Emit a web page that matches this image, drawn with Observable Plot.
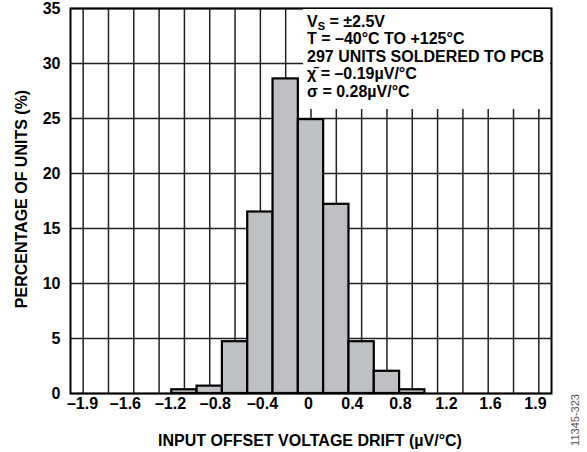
<!DOCTYPE html>
<html><head><meta charset="utf-8">
<script src="https://cdn.jsdelivr.net/npm/d3@7"></script>
<script src="https://cdn.jsdelivr.net/npm/@observablehq/plot@0.6"></script>
<style>
body{margin:0;background:#fff;}
#chart{position:relative;width:587px;height:452px;font-family:"Liberation Sans",Arial,sans-serif;}
</style></head><body><div id="chart"></div>
<script>
// bins (µV/°C) and percentage of units
const binStart = [-1.1, -0.9, -0.7, -0.5, -0.3, -0.1, 0.1, 0.3, 0.5, 0.7];
const binEnd   = [-0.9, -0.7, -0.5, -0.3, -0.1, 0.1, 0.3, 0.5, 0.7, 0.9];
const percent  = [0.34, 0.67, 4.71, 16.5, 28.6, 24.9, 17.2, 4.71, 2.02, 0.34];
const yTicks = [0, 5, 10, 15, 20, 25, 30, 35];
const gridX = [-1.8,-1.6,-1.4,-1.2,-1.0,-0.8,-0.6,-0.4,-0.2,0,0.2,0.4,0.6,0.8,1.0,1.2,1.4,1.6,1.8];
const tickLabels = ["–1.9","–1.6","–1.2","–0.8","–0.4","0","0.4","0.8","1.2","1.6","1.9"];
const tickAt = [-1.805,-1.466,-1.11,-0.755,-0.383,-0.02,0.327,0.707,1.07,1.418,1.773];

const bars = binStart.map((s, i) => ({x1: s, x2: binEnd[i], y: percent[i]}));
const font = "Liberation Sans, Arial, sans-serif";

const plot = Plot.plot({
  width: 587, height: 452,
  marginLeft: 70, marginRight: 36, marginTop: 8, marginBottom: 59,
  style: {fontFamily: font, fontSize: "16px", fontWeight: "bold", background: "#fff", color: "#000"},
  x: {domain: [-1.9, 1.9], axis: null},
  y: {domain: [0, 35], axis: null},
  marks: [
    Plot.gridX(gridX, {stroke: "#222", strokeOpacity: 1, strokeWidth: 1.5}),
    Plot.gridY(yTicks, {stroke: "#222", strokeOpacity: 1, strokeWidth: 1.5}),
    Plot.rectY(bars, {x1: "x1", x2: "x2", y: "y", fill: "#bfc0c4", stroke: "#000", strokeWidth: 2.2}),
    Plot.text(yTicks, {x: -1.9, y: d => d, text: d => String(d), textAnchor: "end", dx: -10, fontWeight: "bold", fontSize: 16}),
    Plot.text(tickAt, {x: d => d, text: (d, i) => tickLabels[i], frameAnchor: "bottom", dy: 15, fontWeight: "bold", fontSize: 16}),
    Plot.frame({stroke: "#000", strokeWidth: 2})
  ]
});
document.getElementById("chart").appendChild(plot);

const svg = d3.select(plot);
// annotation box
svg.append("rect").attr("x", 303).attr("y", 9).attr("width", 247).attr("height", 100).attr("fill", "#fff");
const notes = [
  ["V", "S", " = ±2.5V"],
  ["T = –40°C TO +125°C"],
  ["297 UNITS SOLDERED TO PCB"],
  ["χ̄ = –0.19µV/°C"],
  ["σ = 0.28µV/°C"]
];
notes.forEach((n, i) => {
  const t = svg.append("text").attr("x", 307).attr("y", 26.5 + i * 17.5).attr("text-anchor", "start")
    .attr("font-family", font).attr("font-size", 16).attr("font-weight", "bold").attr("fill", "#000");
  if (n.length === 3) {
    t.append("tspan").text(n[0]);
    t.append("tspan").attr("font-size", 11).attr("dy", 3).text(n[1]);
    t.append("tspan").attr("dy", -3).text(n[2]);
  } else t.text(n[0]);
});
// axis titles
svg.append("text").attr("x", 310).attr("y", 446).attr("text-anchor", "middle")
  .attr("font-family", font).attr("font-size", 16).attr("font-weight", "bold")
  .text("INPUT OFFSET VOLTAGE DRIFT (µV/°C)");
svg.append("text").attr("transform", "translate(27,199) rotate(-90)").attr("text-anchor", "middle")
  .attr("font-family", font).attr("font-size", 16).attr("font-weight", "bold")
  .text("PERCENTAGE OF UNITS (%)");
svg.append("text").attr("transform", "translate(579,420) rotate(-90)").attr("text-anchor", "middle")
  .attr("font-family", "Liberation Sans Narrow, Liberation Sans, Arial, sans-serif").attr("font-size", 11).attr("font-weight", "normal").attr("fill", "#555")
  .text("11345-323");
</script></body></html>
